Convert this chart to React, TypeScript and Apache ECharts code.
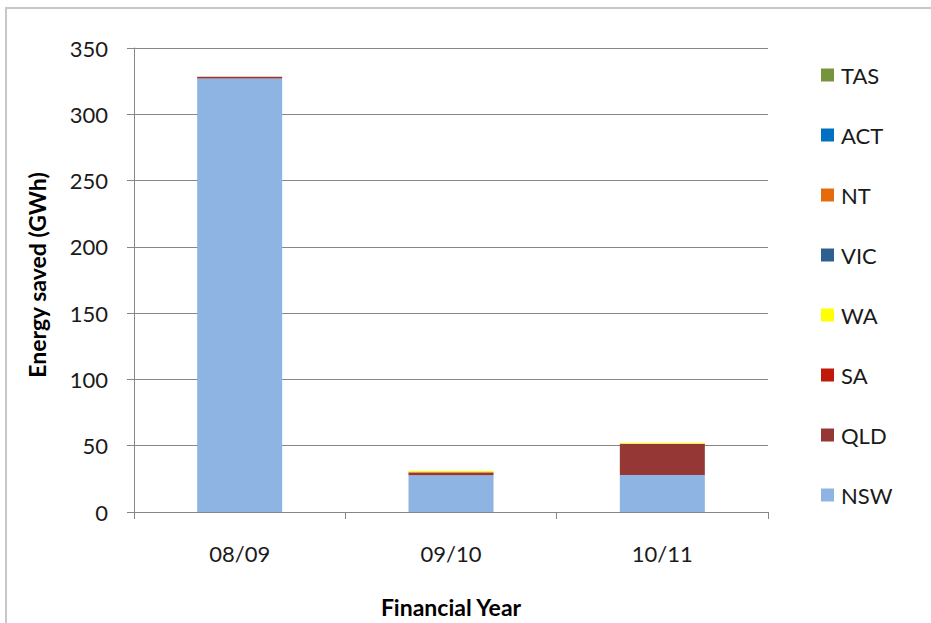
import React, { useEffect, useRef } from "react";
import * as echarts from "echarts";

const categories = ["08/09", "09/10", "10/11"];
const seriesNames = ["NSW", "QLD", "SA", "WA", "VIC", "NT", "ACT", "TAS"];
const nsw = [327, 27.7, 27.9];
const qld = [1.3, 2.0, 23.4];
const sa = [0.1, 0.3, 0.2];
const wa = [0.0, 1.0, 0.7];
const vic = [0, 0, 0];
const nt = [0, 0, 0];
const act = [0, 0, 0];
const tas = [0, 0, 0];
const seriesValues = [nsw, qld, sa, wa, vic, nt, act, tas];
const colors = ["#8DB4E2", "#953735", "#C0190B", "#FFFF00", "#2F5F8F", "#E46C0A", "#0070C0", "#77933C"];
const yTicks = { min: 0, max: 350, interval: 50 };

const FONT = "Lato";

export default function App() {
  const ref = useRef<HTMLDivElement>(null);
  useEffect(() => {
    if (!ref.current) return;
    const chart = echarts.init(ref.current, undefined, { renderer: "svg" });
    chart.setOption({
      animation: false,
      backgroundColor: "#ffffff",
      textStyle: { fontFamily: FONT },
      graphic: [
        {
          type: "rect",
          shape: { x: 6, y: 8, width: 940, height: 630 },
          style: { fill: "none", stroke: "#c8c8c8", lineWidth: 2 },
          silent: true,
        },
      ],
      grid: { left: 134, right: 163, top: 48, bottom: 111 },
      legend: {
        orient: "vertical",
        left: 816,
        top: 59,
        itemWidth: 13,
        itemHeight: 13,
        itemGap: 38,
        icon: "rect",
        data: seriesNames.slice().reverse(),
        textStyle: { fontFamily: FONT, fontSize: 22, color: "#1a1a1a", lineHeight: 22, padding: [0, 0, 0, 2] },
      },
      xAxis: {
        type: "category",
        data: categories,
        name: "Financial Year",
        nameLocation: "middle",
        nameGap: 83,
        nameTextStyle: { fontFamily: FONT, fontSize: 23, fontWeight: "bold", color: "#000" },
        axisLine: { show: true, lineStyle: { color: "#868686", width: 1 } },
        axisTick: { show: true, length: 7, alignWithLabel: false, lineStyle: { color: "#868686" } },
        axisLabel: { margin: 30, fontFamily: FONT, fontSize: 22, color: "#1a1a1a" },
      },
      yAxis: {
        type: "value",
        min: yTicks.min,
        max: yTicks.max,
        interval: yTicks.interval,
        name: "Energy saved (GWh)",
        nameLocation: "middle",
        nameGap: 86,
        nameRotate: 90,
        nameTextStyle: { fontFamily: FONT, fontSize: 23, fontWeight: "bold", color: "#000", padding: [0, 0, 0, 10] },
        axisLine: { show: true, lineStyle: { color: "#868686", width: 1 } },
        axisTick: { show: true, length: 7, lineStyle: { color: "#868686" } },
        axisLabel: { margin: 26, fontFamily: FONT, fontSize: 22, color: "#1a1a1a" },
        splitLine: { show: true, lineStyle: { color: "#868686", width: 1 } },
      },
      series: seriesNames.map((name, i) => ({
        name,
        type: "bar",
        stack: "total",
        barWidth: 85,
        data: seriesValues[i],
        itemStyle: { color: colors[i] },
      })),
    });
    return () => chart.dispose();
  }, []);
  return <div ref={ref} style={{ position: "fixed", left: 0, top: 0, width: 931, height: 623 }} />;
}
